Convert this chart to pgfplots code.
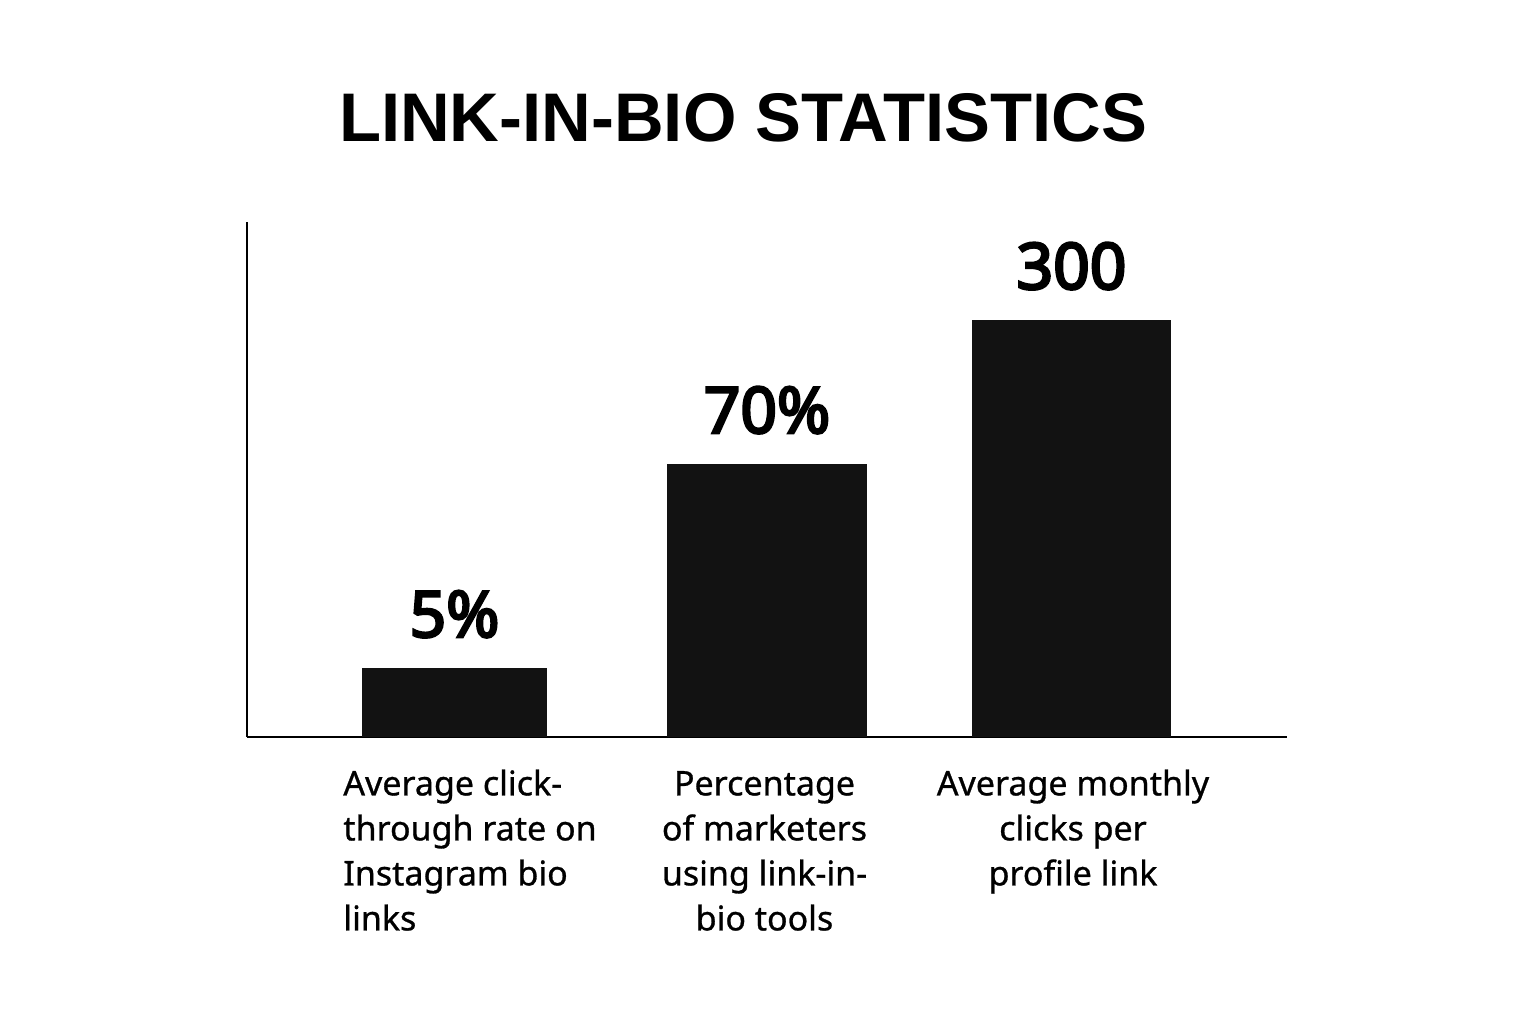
\documentclass[border=0pt]{standalone}
\usepackage{fontspec}
\setmainfont{Noto Sans}
\newfontfamily\titlefont{Liberation Sans}
\newfontfamily\labfont{Noto Sans}[FakeBold=0.8]
\newfontfamily\valfont{Noto Sans}[FakeBold=4]
\usepackage{pgfplots}
\pgfplotsset{compat=1.18}
\definecolor{barcol}{HTML}{121212}
\begin{document}
\begin{tikzpicture}
\path[use as bounding box] (0,0) rectangle (768pt,512pt);
% chart title
\node[anchor=base, inner sep=0] at (371.5pt,441pt)
  {\titlefont\bfseries\fontsize{34.4pt}{34.4pt}\selectfont LINK-IN-BIO STATISTICS};
\begin{axis}[
  at={(123.5pt,143.5pt)}, anchor=south west,
  scale only axis, width=520pt, height=257.5pt,
  xmin=247, xmax=1287, ymin=0, ymax=515,
  axis x line*=bottom, axis y line*=left,
  axis line style={line width=1pt, black},
  ytick=\empty,
  xtick={470,764.5,1073},
  major tick length=0pt,
  xticklabels={
    {\begin{tabular}{@{}l@{}}Average click-\\through rate on\\Instagram bio\\links\end{tabular}},
    {\begin{tabular}{@{}c@{}}Percentage\\of marketers\\using link-in-\\bio tools\end{tabular}},
    {\begin{tabular}{@{}c@{}}Average monthly\\clicks per\\profile link\end{tabular}}
  },
  xticklabel style={anchor=north, inner sep=0pt, yshift=-13.25pt,
    font=\labfont\fontsize{17pt}{22.5pt}\selectfont},
  ybar, bar shift=0pt,
  point meta=explicit symbolic,
  nodes near coords={\pgfplotspointmeta},
  every node near coord/.append style={anchor=base, yshift=15.5pt, inner sep=0pt,
    font=\valfont\fontsize{32pt}{32pt}\selectfont, text=black},
]
\addplot[fill=barcol, draw=none, bar width=185] coordinates {(454.5,69) [5\%]};
\addplot[fill=barcol, draw=none, bar width=200] coordinates {(767,273) [70\%]};
\addplot[fill=barcol, draw=none, bar width=199] coordinates {(1071.5,417) [300]};
\end{axis}
\end{tikzpicture}
\end{document}
